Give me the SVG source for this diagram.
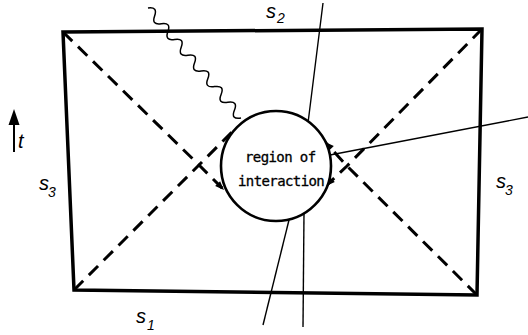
<svg xmlns="http://www.w3.org/2000/svg" xmlns:xlink="http://www.w3.org/1999/xlink" width="528" height="335" viewBox="0 0 528 335">
<style>
.frame{fill:none;stroke:#000;stroke-width:3.5;stroke-linejoin:miter}
.null{fill:none;stroke:#000;stroke-width:3;stroke-dasharray:13 8}
.thin{fill:none;stroke:#000;stroke-width:1.4}
.wave{fill:none;stroke:#000;stroke-width:1.5}
.circ{fill:#fff;stroke:#000;stroke-width:2.6}
.lbl{font-family:"Liberation Sans",Arial,sans-serif;font-style:italic;font-size:20px;fill:#000}
.sub{font-family:"Liberation Sans",Arial,sans-serif;font-style:italic;font-size:14px;fill:#000}
.mono{font-family:"DejaVu Sans Mono","Liberation Mono",monospace;font-size:14px;letter-spacing:-0.6px;fill:#000;stroke:#000;stroke-width:0.3}
</style>
<defs>
<path id="ah" d="M0,0 L-9,-3.5 L-9,3.5 Z" fill="#000"/>
</defs>
<rect width="528" height="335" fill="#fff"/>
<g id="frame">
<polygon class="frame" points="63,32 482,29 477,295 74,290"/>
</g>
<g id="connectors">
<path class="null" d="M63,32 L199,165 L224,190"/>
<path class="null" d="M74,290 L199,165 L233,131"/>
<path class="null" d="M482,29 L347,166 L326,186"/>
<path class="null" d="M477,295 L347,166 L325,142"/>
<use xlink:href="#ah" transform="translate(224,190) rotate(45)"/>
<use xlink:href="#ah" transform="translate(326,186) rotate(135)"/>
<use xlink:href="#ah" transform="translate(325,142) rotate(-135)"/>
<path class="thin" d="M323,3 L308,123"/>
<path class="thin" d="M528,117 L330,155"/>
<path class="thin" d="M289,220 L263,325"/>
<path class="thin" d="M304,213 L303,327"/>
<path class="wave" d="M148,8 Q158,6.5 154.6,15.9 T161.3,23.7 T167.9,31.6 T174.6,39.4 T181.2,47.3 T187.9,55.2 T194.5,63 T201.2,70.9 T207.8,78.7 T214.5,86.6 T221.1,94.5 T227.8,102.3 T234.4,110.2 T241,118"/>
</g>
<g id="region">
<circle class="circ" cx="276" cy="166" r="55"/>
<text class="mono" x="245" y="162">region of</text>
<text class="mono" x="238" y="186">interaction</text>
</g>
<g id="time-arrow">
<line x1="14" y1="152" x2="14" y2="122" stroke="#000" stroke-width="2"/>
<polygon points="14,109 8.5,125 19.5,125" fill="#000"/>
<text class="lbl" x="18" y="148" font-size="17">t</text>
</g>
<g id="labels">
<text class="lbl" x="266" y="18">s</text><text class="sub" x="277" y="23">2</text>
<text class="lbl" x="39" y="190">s</text><text class="sub" x="48" y="197">3</text>
<text class="lbl" x="496" y="188">s</text><text class="sub" x="505" y="195">3</text>
<text class="lbl" x="136" y="323">s</text><text class="sub" x="147" y="330">1</text>
</g>
</svg>
